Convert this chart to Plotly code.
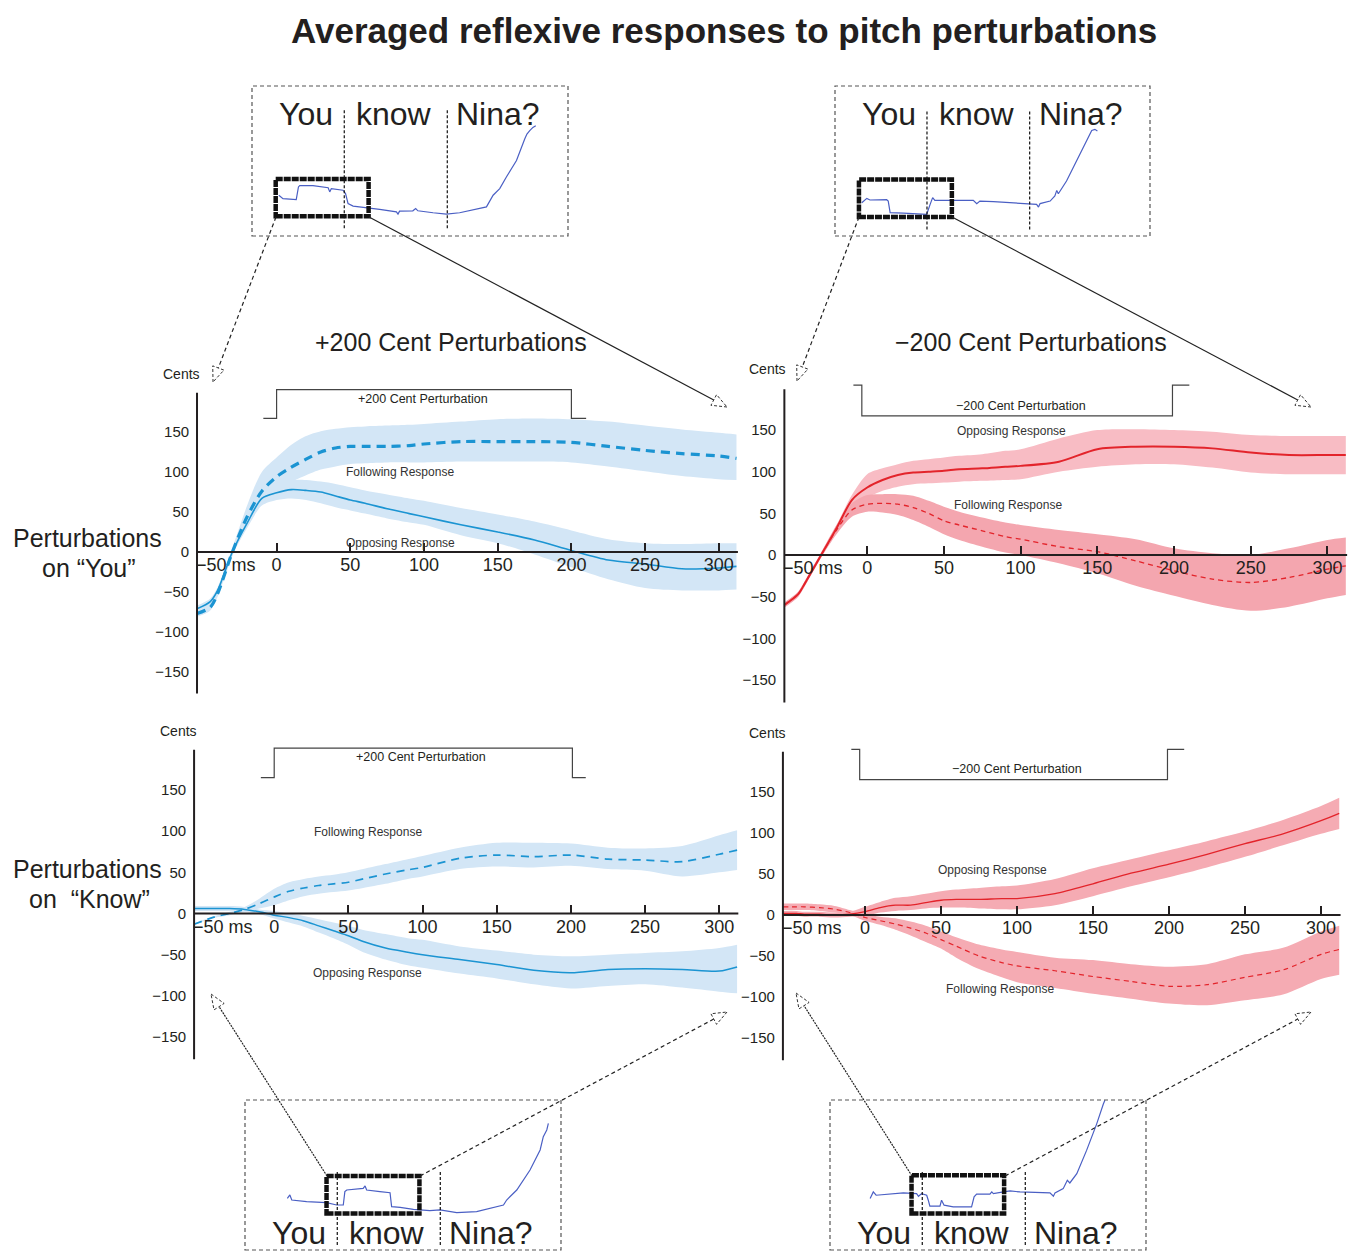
import math
import plotly.graph_objects as go

# ---------------------------------------------------------------
# Averaged reflexive F0 responses (cents) to +/-200 cent pitch shifts
# ---------------------------------------------------------------
t_ms = [-54, -45, -40, -30, -20, -10, 0, 10, 20, 30, 40, 50, 60, 75, 90, 100,
        125, 150, 175, 200, 225, 250, 275, 300, 312]

# Perturbation on "You", +200 cents
you_up_follow_mean = [-77, -69, -52, 0, 44, 76, 94, 106, 116, 125, 130, 132, 132, 132, 133, 135,
                      138, 138, 138, 137, 132, 127, 123, 120, 117]
you_up_follow_hi = [-73, -65, -48, 5, 58, 100, 118, 134, 145, 151, 154, 156, 157, 158, 159, 160,
                    163, 166, 167, 166, 163, 158, 153, 149, 147]
you_up_follow_lo = [-81, -73, -56, -5, 38, 64, 80, 88, 96, 103, 107, 110, 111, 112, 112, 112,
                    113, 113, 113, 112, 107, 101, 95, 91, 90]
you_up_oppose_mean = [-71, -62, -48, 0, 36, 67, 74, 78, 77, 75, 70, 65, 61, 54, 48, 44,
                      34, 25, 15, 2, -10, -15, -21, -20, -18]
you_up_oppose_hi = [-67, -58, -44, 4, 42, 76, 86, 90, 90, 88, 85, 81, 77, 72, 67, 64,
                    55, 47, 38, 27, 16, 11, 10, 11, 11]
you_up_oppose_lo = [-75, -66, -52, -4, 30, 58, 65, 67, 65, 61, 56, 52, 48, 42, 37, 34,
                    21, 11, -3, -19, -34, -45, -48, -48, -47]

# Perturbation on "You", -200 cents
you_dn_oppose_mean = [-60, -47, -32, 0, 32, 66, 81, 90, 96, 99, 100, 101, 103, 104, 106, 107,
                      112, 127, 130, 130, 128, 123, 120, 120, 120]
you_dn_oppose_hi = [-57, -44, -29, 3, 36, 72, 97, 104, 109, 113, 115, 117, 119, 121, 125, 127,
                    140, 150, 151, 150, 148, 144, 143, 143, 143]
you_dn_oppose_lo = [-63, -50, -35, -3, 28, 60, 69, 77, 82, 85, 86, 87, 88, 89, 90, 91,
                    100, 106, 109, 109, 105, 99, 97, 97, 97]
you_dn_follow_mean = [-60, -47, -32, 0, 30, 54, 61, 62, 61, 57, 50, 41, 36, 29, 22, 19,
                      10, 4, -7, -19, -29, -33, -27, -17, -13]
you_dn_follow_hi = [-57, -44, -29, 3, 36, 62, 72, 73, 73, 71, 65, 58, 52, 45, 39, 36,
                    30, 25, 19, 8, 2, 0, 8, 18, 21]
you_dn_follow_lo = [-63, -50, -35, -3, 25, 46, 52, 51, 48, 42, 34, 25, 18, 10, 3, 0,
                    -10, -22, -37, -49, -60, -67, -62, -52, -48]

# Perturbation on "Know", +200 cents
know_up_follow_mean = [-13, -7, -4, 0, 5, 12, 20, 27, 31, 34, 36, 38, 42, 48, 53, 56,
                       67, 71, 69, 71, 66, 65, 63, 72, 77]
know_up_follow_hi = [-12, -6, -3, 2, 8, 18, 30, 38, 42, 45, 47, 50, 54, 60, 66, 70,
                     80, 86, 86, 85, 80, 79, 82, 95, 101]
know_up_follow_lo = [-14, -8, -5, -2, 2, 6, 10, 16, 21, 24, 26, 28, 31, 36, 42, 45,
                     54, 57, 56, 58, 54, 52, 45, 50, 53]
know_up_oppose_mean = [6, 6, 6, 6, 5, 2, -2, -5, -9, -15, -21, -27, -34, -42, -47, -50,
                       -56, -62, -69, -72, -68, -67, -68, -70, -65]
know_up_oppose_hi = [9, 9, 9, 9, 8, 5, 3, 0, -3, -7, -11, -15, -20, -25, -30, -32,
                     -40, -45, -50, -52, -50, -48, -46, -42, -38]
know_up_oppose_lo = [3, 3, 3, 3, 2, -1, -6, -11, -16, -23, -30, -38, -47, -56, -63, -66,
                     -73, -79, -86, -91, -88, -86, -90, -95, -97]

# Perturbation on "Know", -200 cents
know_dn_oppose_mean = [2, 2, 1, 1, 0, 1, 4, 9, 12, 12, 15, 18, 19, 19, 20, 20,
                       26, 38, 51, 62, 74, 87, 99, 115, 124]
know_dn_oppose_hi = [5, 5, 4, 4, 3, 4, 10, 16, 21, 23, 26, 29, 31, 33, 35, 36,
                     44, 57, 68, 79, 90, 102, 116, 133, 143]
know_dn_oppose_lo = [-1, -1, -2, -2, -3, -2, -1, 3, 5, 6, 8, 9, 9, 8, 7, 7,
                     12, 23, 35, 46, 58, 71, 85, 99, 105]
know_dn_follow_mean = [10, 10, 10, 9, 7, 3, -3, -7, -11, -16, -22, -30, -38, -50, -58, -62,
                       -68, -75, -81, -87, -85, -76, -67, -48, -42]
know_dn_follow_hi = [14, 14, 14, 13, 11, 6, 1, -2, -4, -8, -13, -20, -27, -36, -42, -45,
                     -52, -55, -60, -63, -60, -48, -40, -20, -13]
know_dn_follow_lo = [6, 6, 6, 5, 3, 0, -7, -12, -18, -25, -33, -41, -52, -66, -76, -82,
                     -89, -96, -102, -108, -110, -104, -97, -78, -73]

x_ticks = [0, 50, 100, 150, 200, 250, 300]
y_ticks = [-150, -100, -50, 0, 50, 100, 150]
y_tick_text = ["\u2212150", "\u2212100", "\u221250", "0", "50", "100", "150"]

# Pitch contours of "You know Nina?" (normalised time, normalised F0)
contour_a_t = [0.085, 0.090, 0.098, 0.140, 0.147, 0.151, 0.193, 0.241, 0.246, 0.251, 0.288, 0.296,
               0.304, 0.320, 0.362, 0.404, 0.457, 0.462, 0.467, 0.509, 0.518, 0.525, 0.573, 0.615,
               0.657, 0.699, 0.742, 0.763, 0.784, 0.805, 0.837, 0.863, 0.870, 0.879, 0.889, 0.898]
contour_a_f0 = [0.272, 0.265, 0.249, 0.243, 0.327, 0.336, 0.336, 0.322, 0.294, 0.316, 0.305, 0.283,
                0.216, 0.199, 0.190, 0.177, 0.161, 0.146, 0.166, 0.168, 0.183, 0.168, 0.155, 0.146,
                0.155, 0.172, 0.194, 0.272, 0.316, 0.393, 0.503, 0.647, 0.680, 0.702, 0.724, 0.735]
contour_b_t = [0.085, 0.101, 0.111, 0.164, 0.169, 0.175, 0.217, 0.249, 0.270, 0.291, 0.302, 0.310,
               0.317, 0.376, 0.439, 0.450, 0.460, 0.503, 0.587, 0.640, 0.646, 0.651, 0.683, 0.698,
               0.704, 0.709, 0.735, 0.767, 0.799, 0.815, 0.825, 0.833]
contour_b_f0 = [0.222, 0.251, 0.240, 0.242, 0.233, 0.156, 0.153, 0.149, 0.144, 0.144, 0.211, 0.256,
                0.238, 0.238, 0.238, 0.216, 0.233, 0.229, 0.216, 0.211, 0.193, 0.216, 0.233, 0.267,
                0.304, 0.282, 0.367, 0.500, 0.644, 0.704, 0.711, 0.700]
contour_c_t = [0.134, 0.142, 0.148, 0.195, 0.258, 0.290, 0.311, 0.316, 0.322, 0.353, 0.374, 0.380,
               0.385, 0.427, 0.459, 0.464, 0.491, 0.533, 0.585, 0.617, 0.670, 0.733, 0.796, 0.818,
               0.828, 0.860, 0.902, 0.934, 0.944, 0.955, 0.960]
contour_c_f0 = [0.344, 0.367, 0.333, 0.322, 0.316, 0.300, 0.300, 0.389, 0.400, 0.404, 0.411, 0.427,
                0.400, 0.389, 0.382, 0.289, 0.284, 0.271, 0.262, 0.267, 0.249, 0.256, 0.289, 0.300,
                0.333, 0.400, 0.533, 0.667, 0.756, 0.800, 0.844]
contour_d_t = [0.127, 0.137, 0.146, 0.179, 0.232, 0.274, 0.280, 0.290, 0.306, 0.311, 0.316, 0.348,
               0.353, 0.361, 0.390, 0.448, 0.456, 0.464, 0.506, 0.512, 0.517, 0.549, 0.570, 0.601,
               0.654, 0.696, 0.707, 0.712, 0.738, 0.751, 0.759, 0.781, 0.812, 0.844, 0.865, 0.870]
contour_d_f0 = [0.343, 0.387, 0.365, 0.372, 0.381, 0.376, 0.358, 0.376, 0.365, 0.332, 0.292, 0.292,
                0.332, 0.299, 0.288, 0.288, 0.354, 0.372, 0.372, 0.387, 0.376, 0.387, 0.394, 0.387,
                0.383, 0.381, 0.358, 0.381, 0.409, 0.465, 0.447, 0.509, 0.664, 0.841, 0.973, 0.998]
words = ["You", "know", "Nina?"]
word_centres = [0.170, 0.450, 0.780]
word_bounds = [0.292, 0.618]

# ---------------------------------------------------------------
W, H = 1350, 1252
SANS = "Liberation Sans, Arial, Helvetica, sans-serif"
INK = "#231f20"
BLUE, BLUE_BAND = "#1b94d2", "#d3e6f6"
RED = "#e3242b"


def fx(px):
    return px / W


def fy(py):
    return 1 - py / H


T_LO, T_HI = -58, 313
V_LO, V_HI = -182, 212
AXIS_T = -54

panels = [
    dict(x0=276.6, sx=1.474, y0=552.0, sy=0.800, pon=0, poff=200, base=167, top=203,
         bands=[(you_up_follow_lo, you_up_follow_hi, BLUE_BAND), (you_up_oppose_lo, you_up_oppose_hi, BLUE_BAND)],
         lines=[(you_up_oppose_mean, BLUE, 1.6, "solid"), (you_up_follow_mean, BLUE, 3.2, "9px,6px")],
         label="+200 Cent Perturbation", lab_xy=(99, 191),
         notes=[("Following Response", 84, 100), ("Opposing Response", 84, 11)]),
    dict(x0=867.2, sx=1.534, y0=555.0, sy=0.833, pon=-3.5, poff=199, base=204, top=167,
         bands=[(you_dn_oppose_lo, you_dn_oppose_hi, "#f8bcc4"), (you_dn_follow_lo, you_dn_follow_hi, "#f4a6af")],
         lines=[(you_dn_oppose_mean, RED, 2.0, "solid"), (you_dn_follow_mean, RED, 1.3, "5px,4px")],
         label="\u2212200 Cent Perturbation", lab_xy=(100, 179),
         notes=[("Opposing Response", 94, 149), ("Following Response", 92, 60)]),
    dict(x0=274.2, sx=1.4836, y0=913.5, sy=0.823, pon=0, poff=201, base=165, top=201,
         bands=[(know_up_follow_lo, know_up_follow_hi, BLUE_BAND), (know_up_oppose_lo, know_up_oppose_hi, BLUE_BAND)],
         lines=[(know_up_oppose_mean, BLUE, 1.5, "solid"), (know_up_follow_mean, BLUE, 1.7, "8px,6px")],
         label="+200 Cent Perturbation", lab_xy=(99, 190),
         notes=[("Following Response", 63, 99), ("Opposing Response", 63, -72)]),
    dict(x0=865.0, sx=1.520, y0=915.0, sy=0.820, pon=-3.5, poff=199, base=202, top=165,
         bands=[(know_dn_oppose_lo, know_dn_oppose_hi, "#f5abb3"), (know_dn_follow_lo, know_dn_follow_hi, "#f5abb3")],
         lines=[(know_dn_oppose_mean, RED, 1.3, "solid"), (know_dn_follow_mean, RED, 1.2, "5px,4px")],
         label="\u2212200 Cent Perturbation", lab_xy=(100, 178),
         notes=[("Opposing Response", 84, 55), ("Following Response", 89, -90)]),
]

fig = go.Figure()
layout_axes = {}
shapes = []
annotations = []

for i, p in enumerate(panels, start=1):
    xid = "x" if i == 1 else f"x{i}"
    yid = "y" if i == 1 else f"y{i}"
    xkey = "xaxis" if i == 1 else f"xaxis{i}"
    ykey = "yaxis" if i == 1 else f"yaxis{i}"
    xdom = [fx(p["x0"] + p["sx"] * T_LO), fx(p["x0"] + p["sx"] * T_HI)]
    ydom = [fy(p["y0"] - p["sy"] * V_LO), fy(p["y0"] - p["sy"] * V_HI)]

    layout_axes[xkey] = dict(
        domain=xdom, range=[T_LO, T_HI], anchor="free", position=fy(p["y0"]),
        showline=False, showgrid=False, zeroline=False,
        ticks="inside", ticklen=9, tickwidth=1.6, tickcolor=INK,
        tickvals=x_ticks, ticktext=[str(v) for v in x_ticks],
        tickfont=dict(family=SANS, size=18, color=INK), fixedrange=True)
    layout_axes[ykey] = dict(
        domain=ydom, range=[V_LO, V_HI], anchor=xid,
        showline=False, showgrid=False, zeroline=False, ticks="",
        tickvals=y_ticks, ticktext=y_tick_text, ticklabelstandoff=1,
        tickfont=dict(family=SANS, size=15, color=INK), fixedrange=True)

    # confidence bands
    for lo, hi, col in p["bands"]:
        fig.add_trace(go.Scatter(x=t_ms, y=lo, mode="lines", xaxis=xid, yaxis=yid,
                                 line=dict(width=0, shape="spline", smoothing=0.8),
                                 showlegend=False, hoverinfo="skip"))
        fig.add_trace(go.Scatter(x=t_ms, y=hi, mode="lines", xaxis=xid, yaxis=yid,
                                 line=dict(width=0, shape="spline", smoothing=0.8),
                                 fill="tonexty", fillcolor=col,
                                 showlegend=False, hoverinfo="skip"))
    # mean responses
    for mean, col, wd, dash in p["lines"]:
        fig.add_trace(go.Scatter(x=t_ms, y=mean, mode="lines", xaxis=xid, yaxis=yid,
                                 line=dict(color=col, width=wd, dash=dash, shape="spline", smoothing=0.8),
                                 showlegend=False, hoverinfo="skip"))
    # perturbation step
    fig.add_trace(go.Scatter(
        x=[-9, p["pon"], p["pon"], p["poff"], p["poff"], 210],
        y=[p["base"], p["base"], p["top"], p["top"], p["base"], p["base"]],
        mode="lines", xaxis=xid, yaxis=yid, line=dict(color="#444", width=1.2),
        showlegend=False, hoverinfo="skip"))

    # axis lines
    shapes.append(dict(type="line", xref=xid, yref=yid, x0=AXIS_T, x1=T_HI, y0=0, y1=0,
                       line=dict(color=INK, width=2)))
    shapes.append(dict(type="line", xref=xid, yref=yid, x0=AXIS_T, x1=AXIS_T, y0=-177, y1=199,
                       line=dict(color=INK, width=2)))

    annotations.append(dict(x=-56, y=0, xref=xid, yref=yid, text="\u221250 ms", showarrow=False,
                            xanchor="left", yanchor="top", yshift=-1,
                            font=dict(family=SANS, size=18, color=INK)))
    annotations.append(dict(x=p["lab_xy"][0], y=p["lab_xy"][1], xref=xid, yref=yid, text=p["label"],
                            showarrow=False, font=dict(family=SANS, size=12.5, color=INK)))
    for txt, tx, ty in p["notes"]:
        annotations.append(dict(x=tx, y=ty, xref=xid, yref=yid, text=txt, showarrow=False,
                                font=dict(family=SANS, size=12, color="#333")))

# ---------------- sentence pitch-contour insets ----------------
insets = [
    dict(box=(252, 86, 568, 236), t=contour_a_t, f0=contour_a_f0, win=(0.075, 0.369, 0.132, 0.380),
         words_y=0.812, bound_y=(0.051, 0.845)),
    dict(box=(835, 86, 1150, 236), t=contour_b_t, f0=contour_b_f0, win=(0.076, 0.371, 0.127, 0.376),
         words_y=0.811, bound_y=(0.044, 0.844)),
    dict(box=(245, 1100, 561, 1250), t=contour_c_t, f0=contour_c_f0, win=(0.258, 0.552, 0.244, 0.493),
         words_y=0.111, bound_y=(0.033, 0.533)),
    dict(box=(830, 1100, 1146, 1250), t=contour_d_t, f0=contour_d_f0, win=(0.258, 0.551, 0.243, 0.498),
         words_y=0.111, bound_y=(0.033, 0.531)),
]

for k, ins in enumerate(insets, start=5):
    xid, yid = f"x{k}", f"y{k}"
    bx0, by0, bx1, by1 = ins["box"]
    layout_axes[f"xaxis{k}"] = dict(domain=[fx(bx0), fx(bx1)], range=[0, 1], visible=False,
                                    anchor=yid, fixedrange=True)
    layout_axes[f"yaxis{k}"] = dict(domain=[fy(by1), fy(by0)], range=[0, 1], visible=False,
                                    anchor=xid, fixedrange=True)
    fig.add_trace(go.Scatter(x=ins["t"], y=ins["f0"], mode="lines", xaxis=xid, yaxis=yid,
                             line=dict(color="#4a5fc4", width=1.2),
                             showlegend=False, hoverinfo="skip"))
    for b in word_bounds:
        fig.add_trace(go.Scatter(x=[b, b], y=list(ins["bound_y"]), mode="lines", xaxis=xid, yaxis=yid,
                                 line=dict(color="#111", width=1.2, dash="3px,2px"),
                                 showlegend=False, hoverinfo="skip"))
    for w, c in zip(words, word_centres):
        annotations.append(dict(x=c, y=ins["words_y"], xref=xid, yref=yid, text=w, showarrow=False,
                                font=dict(family=SANS, size=32, color=INK)))
    shapes.append(dict(type="rect", xref=f"{xid} domain", yref=f"{yid} domain", x0=0, x1=1, y0=0, y1=1,
                       line=dict(color="#555", width=1.2, dash="4px,3px")))
    u0, u1, w0, w1 = ins["win"]
    shapes.append(dict(type="rect", xref=xid, yref=yid, x0=u0, x1=u1, y0=w0, y1=w1,
                       line=dict(color="#111", width=4.5, dash="7px,1px")))

# zoom arrows from the analysis windows to the panels
arrows = [
    ((276, 217), (213, 382), "4px,3px"),
    ((369, 217), (727, 407), "solid"),
    ((859, 217), (797, 381), "4px,3px"),
    ((952, 217), (1311, 407), "solid"),
    ((327, 1176), (211, 994), "2px,1px"),
    ((420, 1176), (727, 1012), "4px,3px"),
    ((912, 1176), (796, 993), "2px,1px"),
    ((1005, 1176), (1311, 1012), "4px,3px"),
]
for (sx, sy), (tx, ty), dash in arrows:
    dx, dy = tx - sx, ty - sy
    n = math.hypot(dx, dy)
    ux, uy = dx / n, dy / n
    L, hw = 15, 6
    bx, by = tx - L * ux, ty - L * uy
    shapes.append(dict(type="line", xref="paper", yref="paper", x0=fx(sx), y0=fy(sy), x1=fx(bx), y1=fy(by),
                       line=dict(color="#222", width=1.2, dash=dash)))
    p1 = (bx - hw * uy, by + hw * ux)
    p2 = (bx + hw * uy, by - hw * ux)
    path = (f"M {fx(tx):.5f} {fy(ty):.5f} L {fx(p1[0]):.5f} {fy(p1[1]):.5f} "
            f"L {fx(p2[0]):.5f} {fy(p2[1]):.5f} Z")
    shapes.append(dict(type="path", xref="paper", yref="paper", path=path,
                       line=dict(color="#333", width=1, dash="3px,2px")))

# ---------------- titles and labels ----------------
def paper_text(px, py, text, size, bold=False):
    annotations.append(dict(x=fx(px), y=fy(py), xref="paper", yref="paper",
                            text=f"<b>{text}</b>" if bold else text, showarrow=False,
                            xanchor="center", yanchor="middle",
                            font=dict(family=SANS, size=size, color=INK)))


paper_text(724, 30, "Averaged reflexive responses to pitch perturbations", 35, bold=True)
paper_text(451, 342, "+200 Cent Perturbations", 25)
paper_text(1031, 342, "\u2212200 Cent Perturbations", 25)
paper_text(87, 538, "Perturbations", 25)
paper_text(89, 568, "on \u201cYou\u201d", 25)
paper_text(87, 869, "Perturbations", 25)
paper_text(89, 899, "on \u00a0\u201cKnow\u201d", 25)
paper_text(181, 374, "Cents", 14)
paper_text(767, 369, "Cents", 14)
paper_text(178, 731, "Cents", 14)
paper_text(767, 733, "Cents", 14)

fig.update_layout(
    width=W, height=H, margin=dict(l=0, r=0, t=0, b=0),
    paper_bgcolor="white", plot_bgcolor="rgba(0,0,0,0)",
    showlegend=False, shapes=shapes, annotations=annotations,
    **layout_axes,
)

fig.write_html("out.html")
